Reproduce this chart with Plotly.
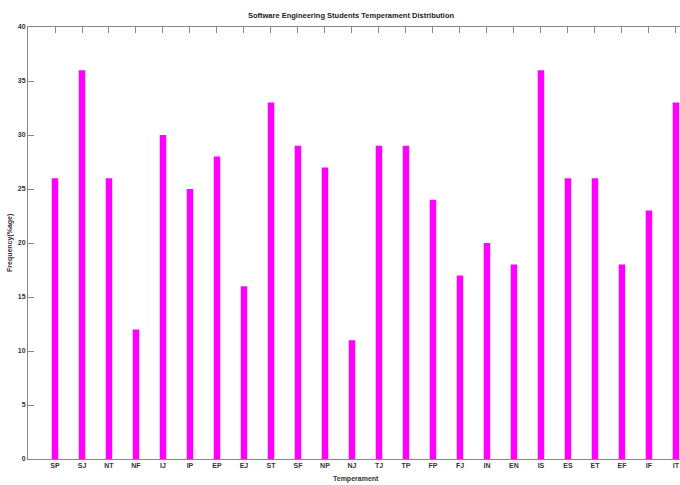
import plotly.graph_objects as go

categories = ["SP", "SJ", "NT", "NF", "IJ", "IP", "EP", "EJ", "ST", "SF", "NP", "NJ",
              "TJ", "TP", "FP", "FJ", "IN", "EN", "IS", "ES", "ET", "EF", "IF", "IT"]
frequency = [26, 36, 26, 12, 30, 25, 28, 16, 33, 29, 27, 11,
             29, 29, 24, 17, 20, 18, 36, 26, 26, 18, 23, 33]
y_ticks = [0, 5, 10, 15, 20, 25, 30, 35, 40]

FONT = "Liberation Sans, Arial, sans-serif"
W, H = 680, 485
L, R, T, B = 28, 0, 27, 26          # plot area: x 28..680, y 27..459
PW, PH = W - L - R, H - T - B
XRANGE = [-1, 23.15]


def px_x(x):
    return (x - L) / PW


def px_y(y):
    return (H - B - y) / PH


positions = list(range(len(categories)))

fig = go.Figure()
fig.add_trace(go.Bar(
    x=positions,
    y=frequency,
    width=0.24,
    marker=dict(color="#FF00FF", line=dict(width=0)),
    hoverinfo="skip",
))
# invisible helper trace so the top tick axis is drawn
fig.add_trace(go.Scatter(x=[positions[0]], y=[0], xaxis="x2", mode="markers",
                         marker=dict(opacity=0), hoverinfo="skip", showlegend=False))

fig.update_layout(
    width=W, height=H,
    margin=dict(l=L, r=R, t=T, b=B),
    paper_bgcolor="white", plot_bgcolor="white",
    showlegend=False,
    font=dict(family=FONT, size=7, color="#333333"),
    title=dict(text="<b>Software Engineering Students Temperament Distribution</b>",
               x=351 / W, xanchor="center", y=1 - 15 / H, yanchor="middle",
               yref="container", font=dict(family=FONT, size=7.5, color="#222222")),
    xaxis=dict(range=XRANGE, tickmode="array",
               tickvals=positions,
               ticktext=["<b>%s</b>" % c for c in categories],
               ticks="", mirror=True,
               showline=True, linecolor="#888888", linewidth=1,
               showgrid=False, zeroline=False,
               tickfont=dict(family=FONT, size=7, color="#333333")),
    xaxis2=dict(range=XRANGE, overlaying="x", side="top", tickmode="array",
                tickvals=positions, showticklabels=False,
                ticks="inside", ticklen=6, tickcolor="#888888",
                showline=False, showgrid=False, zeroline=False),
    yaxis=dict(range=[0, 40], tickmode="array", tickvals=y_ticks,
               ticktext=["<b>%d</b>" % v for v in y_ticks],
               ticks="inside", ticklen=6, tickcolor="#888888",
               showline=True, linecolor="#888888", linewidth=1,
               showgrid=False, zeroline=False,
               tickfont=dict(family=FONT, size=7, color="#333333")),
    annotations=[
        dict(text="<b>Temperament</b>", x=px_x(356), y=px_y(479),
             xref="paper", yref="paper", xanchor="center", yanchor="middle",
             showarrow=False, font=dict(family=FONT, size=7, color="#333333")),
        dict(text="<b>Frequency(%age)</b>", x=px_x(10), y=px_y(243), textangle=-90,
             xref="paper", yref="paper", xanchor="center", yanchor="middle",
             showarrow=False, font=dict(family=FONT, size=7, color="#333333")),
    ],
)

fig.write_html("out.html", config={"displayModeBar": False},
               post_script="document.body.style.margin='0';document.body.style.padding='0';")
